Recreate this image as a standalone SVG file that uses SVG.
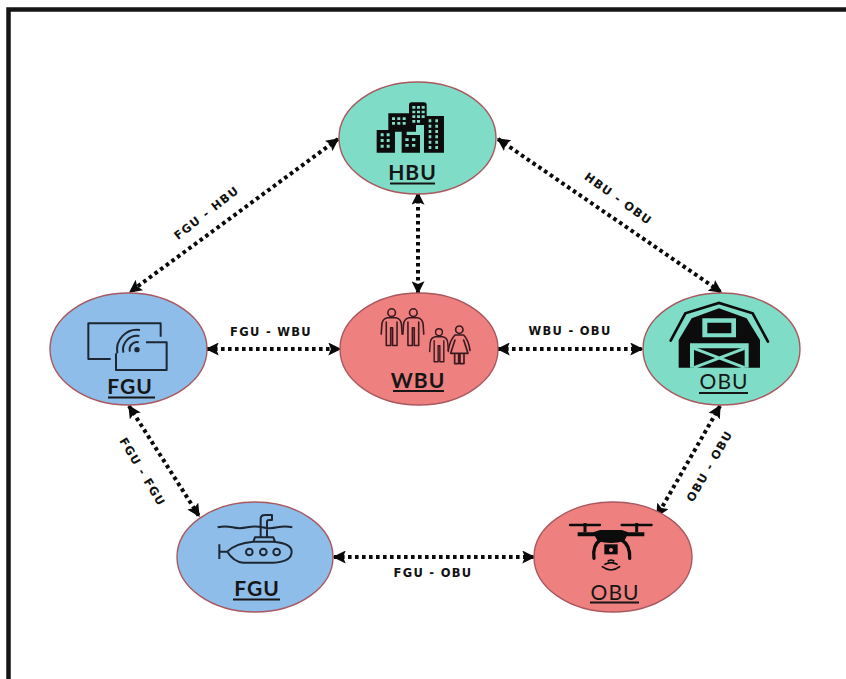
<svg xmlns="http://www.w3.org/2000/svg" width="846" height="679" viewBox="0 0 846 679">
<style>
.n{stroke:#a8585f;stroke-width:1.4}
.teal{fill:#7fdcc6}.blue{fill:#8fbde9}.red{fill:#ee8080}
.t{font-family:"Lato","Liberation Sans",sans-serif;font-weight:700;font-size:21px;fill:#161616;text-anchor:middle;letter-spacing:1px}
.u{stroke:#161616;stroke-width:2.2}
.l{font-family:"DejaVu Sans","Liberation Sans",sans-serif;font-weight:700;font-size:11.5px;fill:#111;text-anchor:middle;letter-spacing:1.3px}
.c{fill:none;stroke:#0a0a0a;stroke-width:4;stroke-dasharray:3.6 3.4;marker-start:url(#a);marker-end:url(#a)}
.ln{fill:none;stroke:#1d2733;stroke-width:6;stroke-linejoin:round}
</style>
<defs>
<marker id="a" viewBox="0 0 10 10" refX="9" refY="5" markerUnits="userSpaceOnUse" markerWidth="13" markerHeight="13" orient="auto-start-reverse"><path d="M0 0L10 5L0 10L2 5Z" fill="#0a0a0a"/></marker>
<g id="person"><circle cx="0" cy="-38" r="12" fill="none"/><path d="M-14,-22 H14 Q30,-18 31,0 L33,30 M-14,-22 Q-30,-18 -31,0 L-33,30 M-17,-8 V66 H-3 V10 M17,-8 V66 H3 V10 H-3"/></g>
</defs>
<rect x="8.500" y="9.500" width="850" height="690" fill="#fff" stroke="#151515" stroke-width="4.500"/>
<g id="connectors">
<path class="c" d="M338,139L130,292"/>
<path class="c" d="M498,139L721,292"/>
<path class="c" d="M418,193V293"/>
<path class="c" d="M207,349H340"/>
<path class="c" d="M498,349H642"/>
<path class="c" d="M129,406L199,516"/>
<path class="c" d="M720,406L657,516"/>
<path class="c" d="M334,557H534"/>
</g>
<g id="edge-labels">
<text class="l" transform="translate(209 216) rotate(-38)">FGU - HBU</text>
<text class="l" transform="translate(616 202) rotate(36)">HBU - OBU</text>
<text class="l" x="271" y="336">FGU - WBU</text>
<text class="l" x="570" y="335">WBU - OBU</text>
<text class="l" transform="translate(139 474) rotate(59)">FGU - FGU</text>
<text class="l" transform="translate(713 468) rotate(-60)">OBU - OBU</text>
<text class="l" x="433" y="577">FGU - OBU</text>
</g>
<g id="hbu">
<ellipse class="n teal" cx="417.500" cy="138" rx="78.500" ry="56"/>
<g transform="translate(330 70) scale(.3333)">
<path fill="#0c0c0c" d="M237,105Q237,97 245,97H282Q290,97 290,105V165H237ZM175,130H237V165H258V185H230V198H215V185H175ZM140,180H195V248H140ZM215,195H270V248H215ZM282,138H342V248H282Z"/>
<path fill="#7fdcc6" d="M247,108h9v8h-9zM261,108h9v8h-9zM275,108h9v8h-9zM247,122h9v8h-9zM261,122h9v8h-9zM275,122h9v8h-9zM247,136h9v8h-9zM261,136h9v8h-9zM275,136h9v8h-9zM247,150h9v8h-9zM261,150h9v8h-9zM186,142h9v8h-9zM202,142h9v8h-9zM218,142h9v8h-9zM186,156h9v8h-9zM202,156h9v8h-9zM218,156h9v8h-9zM152,190h9v9h-9zM170,190h9v9h-9zM152,207h9v9h-9zM170,207h9v9h-9zM152,224h9v9h-9zM170,224h9v9h-9zM226,205h10v8h-10zM246,205h10v8h-10zM226,222h10v8h-10zM246,222h10v8h-10zM296,148h8v9h-8zM316,148h8v9h-8zM296,164h8v9h-8zM316,164h8v9h-8zM296,180h8v9h-8zM316,180h8v9h-8zM296,196h8v9h-8zM316,196h8v9h-8zM296,212h8v9h-8zM316,212h8v9h-8zM296,228h8v9h-8zM316,228h8v9h-8z"/>
</g>
<text class="t" x="412.500" y="180">HBU</text><path class="u" d="M390,183.500H435"/>
</g>
<g id="fgu-a">
<ellipse class="n blue" cx="128.500" cy="349" rx="78.500" ry="56"/>
<g transform="translate(40 285) scale(.3333)">
<path class="ln" d="M362,155V115H145V222H212M318,172H380V255H228V205"/>
<circle cx="291" cy="194" r="8" fill="#1d2733"/>
<path class="ln" d="M270,200A22,22 0 0 1 296,172M250,203A42,42 0 0 1 298,153M232,205A60,60 0 0 1 300,135"/>
</g>
<text class="t" x="130" y="394">FGU</text><path class="u" d="M108,397.500H155"/>
</g>
<g id="wbu">
<ellipse class="n red" cx="419" cy="349" rx="79" ry="56"/>
<g transform="translate(330 285) scale(.3333)" fill="none" stroke="#3a1a1f" stroke-width="5" stroke-linejoin="round" stroke-linecap="round">
<use href="#person" transform="translate(185 119) scale(.95)"/>
<use href="#person" transform="translate(250 119) scale(.95)"/>
<use href="#person" transform="translate(327 174) scale(.85)"/>
<circle cx="388" cy="134" r="11"/>
<path d="M375,150H401Q416,165 420,196M375,150Q360,165 355,196M375,165L362,205H414L401,165M374,205V236H386V205M390,205V236H402V205"/>
</g>
<text class="t" x="418" y="388">WBU</text><path class="u" d="M393,391H444"/>
</g>
<g id="obu-a">
<ellipse class="n teal" cx="721.500" cy="349" rx="78.500" ry="56"/>
<g transform="translate(630 285) scale(.3333)">
<path fill="none" stroke="#0c0c0c" stroke-width="8" stroke-linecap="round" d="M122,167L166,85L267,54L368,85L414,170"/>
<path fill="#0c0c0c" d="M146,165L185,100L267,70L350,100L390,165V248H146Z"/>
<path fill="#7fdcc6" d="M217,100H318V157H217ZM232,113V145H304V113ZM180,175H356V248H344V190H192V248H180Z"/>
<path fill="none" stroke="#7fdcc6" stroke-width="9" d="M192,190L344,248M344,190L192,248"/>
</g>
<text class="t" x="724" y="389" style="font-weight:400">OBU</text><path class="u" d="M699,393H748"/>
</g>
<g id="fgu-b">
<ellipse class="n blue" cx="255" cy="557" rx="78" ry="55"/>
<g transform="translate(170 495) scale(.3333)">
<path class="ln" d="M143,97Q165,92 187,97T232,97T277,97T322,97T367,97M148,148V192M148,170H172M172,170Q195,145 250,140H310Q365,145 365,170Q365,200 310,203H220Q190,200 172,170ZM250,140L255,127H310L315,140M272,127V72Q272,60 285,60H306V75H297Q291,75 291,80V127"/>
<circle class="ln" cx="238" cy="171" r="10"/>
<circle class="ln" cx="280" cy="171" r="10"/>
<circle class="ln" cx="320" cy="171" r="10"/>
</g>
<text class="t" x="257" y="596">FGU</text><path class="u" d="M233,599.500H280"/>
</g>
<g id="obu-b">
<ellipse class="n red" cx="613" cy="557" rx="79" ry="55"/>
<g transform="translate(525 495) scale(.3333)">
<path fill="none" stroke="#0c0c0c" stroke-width="7" stroke-linecap="round" d="M135,90H225M290,90H380"/>
<path fill="none" stroke="#0c0c0c" stroke-width="9" d="M180,84V112M335,84V112"/>
<path fill="#0c0c0c" d="M158,112H205L225,105H290L310,112H358V124H305L298,138Q258,150 218,138L210,124H158Z"/>
<path fill="none" stroke="#0c0c0c" stroke-width="10" stroke-linecap="round" d="M226,135Q202,150 207,190M290,135Q316,150 314,190"/>
<path fill="#0c0c0c" d="M238,148H278V178H238Z"/>
<circle cx="258" cy="165" r="6" fill="#ee8080"/>
<path fill="none" stroke="#0c0c0c" stroke-width="5" stroke-linecap="round" d="M250,198Q258,192 266,198M240,208Q258,198 276,208M232,215Q258,235 284,215"/>
</g>
<text class="t" x="615" y="600" style="font-weight:400">OBU</text><path class="u" d="M590,602.500H639"/>
</g>
</svg>
